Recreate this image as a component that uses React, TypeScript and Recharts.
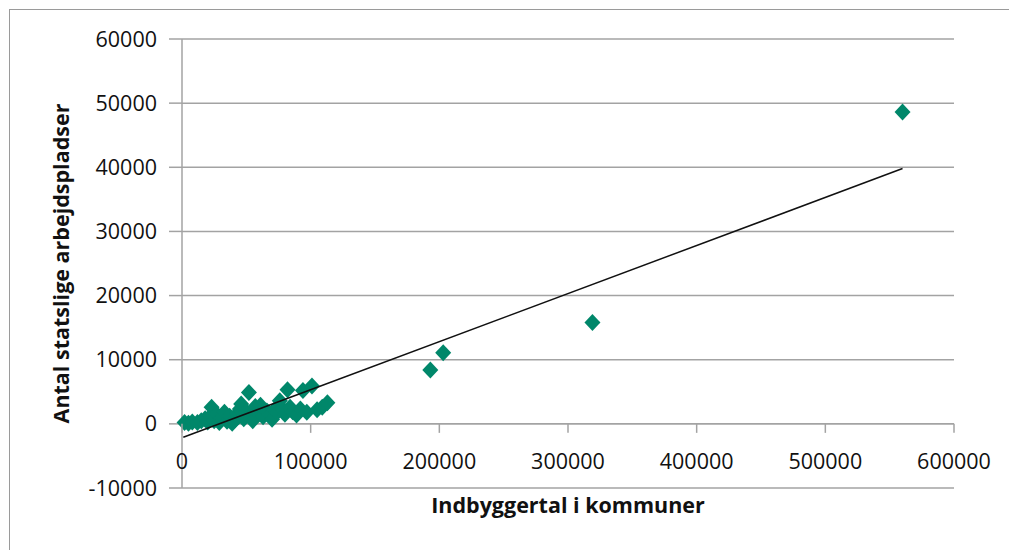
import { ScatterChart, Scatter, XAxis, YAxis, CartesianGrid, ReferenceLine } from "recharts";

// Befolkning (x) mod antal statslige arbejdspladser (y) pr. kommune.
const KOMMUNER_X = [
  2000, 5000, 8000, 12000, 15000, 18000, 20000, 22000, 23000, 25000, 27000, 29000, 31000, 33000, 35000,
  37000, 39000, 41000, 43000, 45000, 46000, 48000, 50000, 52000, 53000, 55000, 57000, 59000, 61000, 63000,
  66000, 68000, 70000, 72000, 74000, 76000, 78000, 80000, 82000, 84000, 86000, 89000, 92000, 94000, 97000,
  101000, 105000, 109000, 113000, 193000, 203000, 319000, 560000,
];
const KOMMUNER_Y = [
  200, 100, 300, 200, 500, 800, 300, 1200, 2600, 500, 1500, 200, 900, 1800, 400,
  1200, 100, 600, 1600, 2300, 3100, 800, 1900, 4900, 1300, 500, 2700, 1600, 2900, 1100,
  2000, 1400, 700, 2200, 1800, 3600, 2400, 1500, 5300, 2600, 1900, 1400, 2300, 5200, 1800,
  5900, 2200, 2600, 3300, 8400, 11100, 15800, 48600,
];

// Lineær tendenslinje, aflæst i begge ender.
const TREND_X = [1000, 560000];
const TREND_Y = [-2100, 39800];

const X_TICKS = [0, 100000, 200000, 300000, 400000, 500000, 600000];
const Y_TICKS = [-10000, 0, 10000, 20000, 30000, 40000, 50000, 60000];

const points = KOMMUNER_X.map((x, i) => ({ x, y: KOMMUNER_Y[i] }));
const trend = TREND_X.map((x, i) => ({ x, y: TREND_Y[i] }));

const GREEN = "#00876A";
const GRID = "#A3A3A3";
const INK = "#111";
const FONT = "'Open Sans', sans-serif";

const PLOT_H = 449;
const Y_MIN = -10000;
const Y_MAX = 60000;
const ZERO_UP = (PLOT_H * (0 - Y_MIN)) / (Y_MAX - Y_MIN);

const Diamond = (props: any) => {
  const { cx, cy } = props;
  if (cx == null || cy == null) return <g />;
  return <polygon points={`${cx},${cy - 8.5} ${cx + 8},${cy} ${cx},${cy + 8.5} ${cx - 8},${cy}`} fill={GREEN} />;
};

// x-akse-tal sidder under 0-linjen, ikke under plottets bund
const XTick = (props: any) => {
  const { x, y, payload } = props;
  const zy = y - ZERO_UP;
  return (
    <g>
      <line x1={x} x2={x} y1={zy} y2={zy + 9} stroke={GRID} strokeWidth={1.5} />
      <text x={x} y={zy + 45} textAnchor="middle" fontSize={21.5} fill={INK} fontFamily={FONT}>
        {payload.value}
      </text>
    </g>
  );
};

export default function App() {
  return (
    <div style={{ position: "fixed", left: 0, top: 0, width: 1009, height: 550, overflow: "hidden", background: "#fff" }}>
      <div
        style={{
          position: "absolute",
          left: 9,
          top: 9,
          width: 1100,
          height: 700,
          border: "1.5px solid #9a9a9a",
        }}
      />
      <div style={{ position: "absolute", left: 0, top: 0 }}>
        <ScatterChart width={1009} height={550} margin={{ top: 39, right: 55, bottom: 32, left: 0 }} style={{ fontFamily: FONT }}>
          <CartesianGrid horizontal vertical={false} stroke={GRID} strokeWidth={1.5} />
          <XAxis
            type="number"
            dataKey="x"
            domain={[0, 600000]}
            ticks={X_TICKS}
            interval={0}
            height={30}
            axisLine={false}
            tickLine={false}
            tickSize={0}
            tickMargin={0}
            tick={<XTick />}
            label={{
              value: "Indbyggertal i kommuner",
              position: "insideBottom",
              offset: 5,
              style: { fontSize: 21.5, fontWeight: 700, fill: INK, fontFamily: FONT },
            }}
          />
          <YAxis
            type="number"
            dataKey="y"
            domain={[Y_MIN, Y_MAX]}
            ticks={Y_TICKS}
            interval={0}
            width={182}
            axisLine={{ stroke: GRID, strokeWidth: 1.5 }}
            tickLine={{ stroke: GRID, strokeWidth: 1.5 }}
            tickSize={13}
            tickMargin={12}
            tick={{ fontSize: 21.5, fill: INK, fontFamily: FONT }}
            label={{
              content: (p: any) => {
                const vb = p.viewBox || { y: 39, height: 449 };
                const cy = vb.y + vb.height / 2;
                return (
                  <text
                    x={69}
                    y={cy}
                    transform={`rotate(-90 69 ${cy})`}
                    textAnchor="middle"
                    fontSize={21.5}
                    fontWeight={700}
                    fill={INK}
                    fontFamily={FONT}
                  >
                    Antal statslige arbejdspladser
                  </text>
                );
              },
            }}
          />
          <ReferenceLine y={0} stroke={GRID} strokeWidth={1.5} />
          <Scatter data={points} shape={<Diamond />} isAnimationActive={false} />
          <Scatter
            data={trend}
            line={{ stroke: "#111", strokeWidth: 1.5 }}
            shape={() => <g />}
            isAnimationActive={false}
          />
        </ScatterChart>
      </div>
    </div>
  );
}
